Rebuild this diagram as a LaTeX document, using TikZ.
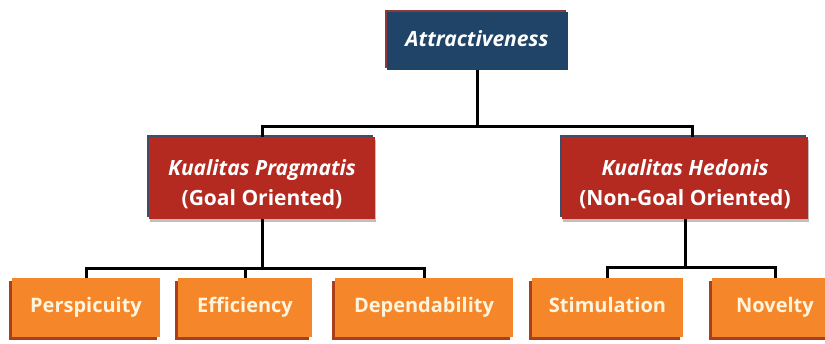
\documentclass[tikz,border=0pt]{standalone}
\usepackage{fontspec}
\setmainfont{Open Sans}
\definecolor{navy}{HTML}{1F4468}
\definecolor{navyshadow}{HTML}{8A3A3A}
\definecolor{redbox}{HTML}{B42A21}
\definecolor{redshadow}{HTML}{3E4E68}
\definecolor{orangebox}{HTML}{F5862A}
\definecolor{orangeshadow}{HTML}{A8401B}
\definecolor{cream}{HTML}{FFF4DC}
\newcommand{\topstrut}{\rule{0pt}{28pt}}
\tikzset{
  box/.style={inner sep=0pt, align=center, font=\fontsize{20}{30}\selectfont\bfseries},
  topbox/.style={box, fill=navy, text=white, minimum width=181pt, minimum height=58pt,
     text height=15pt, text depth=5pt, font=\fontsize{21}{30}\selectfont\bfseries,
     preaction={fill=navyshadow, transform canvas={xshift=-2pt, yshift=2pt}}},
  midbox/.style={box, fill=redbox, text=white, minimum height=82pt,
     font=\fontsize{21}{30}\selectfont\bfseries,
     preaction={fill=redshadow, transform canvas={xshift=-2pt, yshift=2pt}},
     preaction={fill=black!25, transform canvas={xshift=1pt, yshift=-3pt}}},
  leafbox/.style={box, fill=orangebox, text=cream, minimum height=59pt,
     text height=15pt, text depth=5pt,
     preaction={fill=orangeshadow, transform canvas={xshift=-3pt, yshift=-3pt}}},
  conn/.style={draw=black, line width=3pt}
}
\begin{document}
\begin{tikzpicture}[x=1pt, y=-1pt]
\useasboundingbox (0,0) rectangle (825,343);
\clip (0,0) rectangle (825,343);
\node[topbox] (att) at (477,41) {\itshape Attractiveness};
\node[midbox, minimum width=226pt] (prag) at (262,178) {\topstrut\itshape Kualitas Pragmatis\\(Goal Oriented)};
\node[midbox, minimum width=246pt] (hed) at (685,178) {\topstrut\itshape Kualitas Hedonis\\(Non-Goal Oriented)};
\node[leafbox, minimum width=148pt] (per) at (86,307.5) {Perspicuity};
\node[leafbox, minimum width=134pt] (eff) at (245,307.5) {Efficiency};
\node[leafbox, minimum width=178pt] (dep) at (424,307.5) {Dependability};
\node[leafbox, minimum width=151pt] (sti) at (607.5,307.5) {Stimulation};
\node[leafbox, minimum width=126pt] (nov) at (775,307.5) {Novelty};
\draw[conn] (att.south) -- ++(0,56) coordinate (j1);
\draw[conn] (j1) -| (prag.north);
\draw[conn] (j1) -| ([xshift=7pt]hed.north);
\draw[conn] (prag.south) -- ++(0,49) coordinate (j2);
\draw[conn] (j2) -| (per.north);
\draw[conn] (j2) -| (eff.north);
\draw[conn] (j2) -| (dep.north);
\draw[conn] (hed.south) -- ++(0,48) coordinate (j3);
\draw[conn] (j3) -| (sti.north);
\draw[conn] (j3) -| (nov.north);
\end{tikzpicture}
\end{document}
